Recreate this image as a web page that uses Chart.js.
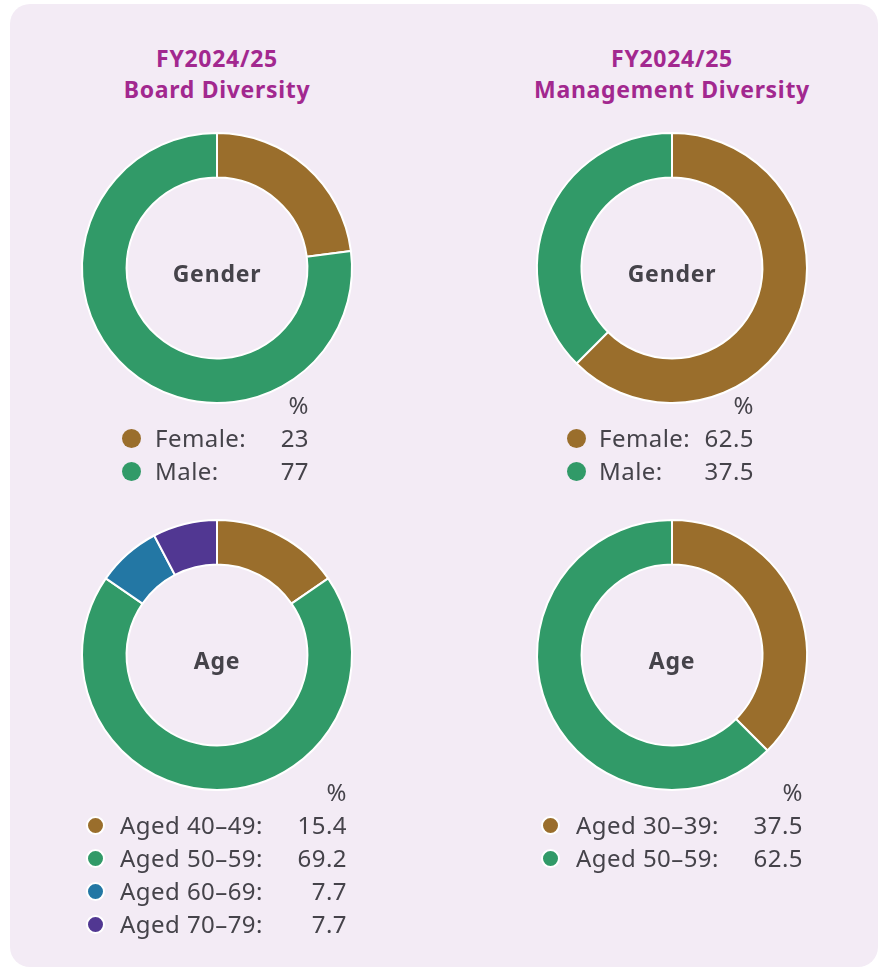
<!DOCTYPE html>
<html>
<head>
<meta charset="utf-8">
<script src="https://cdn.jsdelivr.net/npm/chart.js@4/dist/chart.umd.min.js"></script>
<style>
  html, body { margin: 0; padding: 0; background: #fff; }
  body { width: 881px; height: 970px; position: relative; overflow: hidden; font-family: 'Noto Sans', Lato, sans-serif; color: #45434a; }
  .panel { position: absolute; left: 10px; top: 4px; width: 868px; height: 963px; border-radius: 20px; background: #f3ebf5; }
  .title { position: absolute; width: 400px; text-align: center; color: #a2288f; font-weight: bold; font-size: 23px; letter-spacing: 0.7px; line-height: 31px; }
  .box { position: absolute; width: 300px; height: 300px; }
  .legend { position: absolute; font-size: 24px; letter-spacing: 0.45px; }
  .legend div { position: absolute; white-space: nowrap; line-height: 34px; }
  .dot { position: absolute; width: 19px; height: 19px; border-radius: 50%; box-sizing: border-box; }
</style>
</head>
<body>
<div class="panel"></div>
<div class="title" style="left:17px; top:43px;">FY2024/25<br>Board Diversity</div>
<div class="title" style="left:472px; top:43px;">FY2024/25<br>Management Diversity</div>

<div class="box" style="left:67px; top:118px;"><canvas id="c1" width="300" height="300"></canvas></div>
<div class="box" style="left:522px; top:118px;"><canvas id="c2" width="300" height="300"></canvas></div>
<div class="box" style="left:67px; top:505px;"><canvas id="c3" width="300" height="300"></canvas></div>
<div class="box" style="left:522px; top:505px;"><canvas id="c4" width="300" height="300"></canvas></div>

<div id="l1" class="legend"></div>
<div id="l2" class="legend"></div>
<div id="l3" class="legend"></div>
<div id="l4" class="legend"></div>

<script>
// data
const boardGenderLabels = ['Female:', 'Male:'];
const boardGenderValues = [23, 77];
const mgmtGenderLabels = ['Female:', 'Male:'];
const mgmtGenderValues = [62.5, 37.5];
const boardAgeLabels = ['Aged 40–49:', 'Aged 50–59:', 'Aged 60–69:', 'Aged 70–79:'];
const boardAgeValues = [15.4, 69.2, 7.7, 7.7];
const mgmtAgeLabels = ['Aged 30–39:', 'Aged 50–59:'];
const mgmtAgeValues = [37.5, 62.5];

const brown = '#9a6e2c', green = '#319a68', blue = '#2377a4', purple = '#513792';
const genderColors = [brown, green];
const boardAgeColors = [brown, green, blue, purple];
const mgmtAgeColors = [brown, green];

const centerText = {
  id: 'centerText',
  afterDraw(chart, args, opts) {
    const ctx = chart.ctx;
    const a = chart.chartArea;
    ctx.save();
    ctx.font = 'bold 23px "Noto Sans", Lato, sans-serif';
    ctx.letterSpacing = '0.8px';
    ctx.fillStyle = '#45434a';
    ctx.textAlign = 'center';
    ctx.textBaseline = 'middle';
    ctx.fillText(opts.text, (a.left + a.right) / 2, (a.top + a.bottom) / 2 + 7);
    ctx.restore();
  }
};

function donut(id, labels, values, colors, text) {
  return new Chart(document.getElementById(id), {
    type: 'doughnut',
    data: {
      labels: labels,
      datasets: [{
        data: values,
        backgroundColor: colors,
        borderColor: '#ffffff',
        borderWidth: 2
      }]
    },
    options: {
      responsive: false,
      animation: false,
      radius: 135,
      cutout: '67%',
      layout: { padding: 0 },
      plugins: {
        legend: { display: false },
        tooltip: { enabled: false },
        centerText: { text: text }
      }
    },
    plugins: [centerText]
  });
}

donut('c1', boardGenderLabels, boardGenderValues, genderColors, 'Gender');
donut('c2', mgmtGenderLabels, mgmtGenderValues, genderColors, 'Gender');
donut('c3', boardAgeLabels, boardAgeValues, boardAgeColors, 'Age');
donut('c4', mgmtAgeLabels, mgmtAgeValues, mgmtAgeColors, 'Age');

// legends: x = dot centre, lx = label left, vr = value right edge, top = top of % line
function legend(id, labels, values, colors, x, lx, vr, top, ring) {
  const el = document.getElementById(id);
  el.style.left = '0px';
  el.style.top = top + 'px';
  let html = '<div style="left:' + (vr - 60) + 'px; top:0px; width:60px; text-align:right;">%</div>';
  labels.forEach((lab, i) => {
    const y = 33 * (i + 1);
    html += '<span class="dot" style="left:' + (x - 9.5) + 'px; top:' + (y + 8) + 'px; background:' + colors[i] + ';' +
      (ring ? 'border:2px solid #fff;' : '') + '"></span>';
    html += '<div style="left:' + lx + 'px; top:' + y + 'px;">' + lab + '</div>';
    html += '<div style="left:' + (vr - 80) + 'px; top:' + y + 'px; width:80px; text-align:right;">' + values[i] + '</div>';
  });
  el.innerHTML = html;
}

legend('l1', boardGenderLabels, boardGenderValues, genderColors, 131, 155, 309, 388, false);
legend('l2', mgmtGenderLabels, mgmtGenderValues, genderColors, 576, 599, 754, 388, false);
legend('l3', boardAgeLabels, boardAgeValues, boardAgeColors, 95, 120, 347, 775, true);
legend('l4', mgmtAgeLabels, mgmtAgeValues, mgmtAgeColors, 550, 576, 803, 775, true);
</script>
</body>
</html>
